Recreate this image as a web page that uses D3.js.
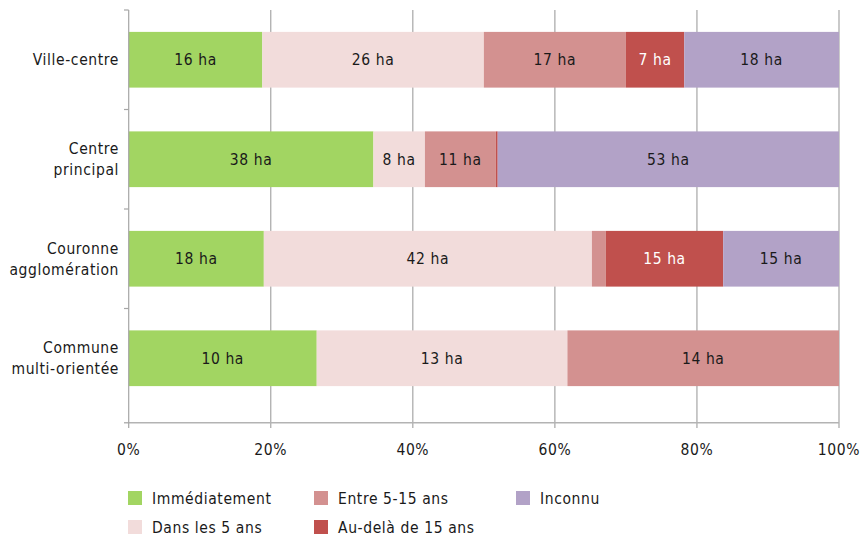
<!DOCTYPE html>
<html><head><meta charset="utf-8">
<script src="https://cdn.jsdelivr.net/npm/d3@7"></script>
<style>
body{margin:0;background:#fff;}
text{font-family:"DejaVu Sans Condensed","Roboto Condensed",Roboto,sans-serif;letter-spacing:0.6px;}
</style></head>
<body><svg id="c" width="866" height="537"></svg>
<script>
const categories = ["Ville-centre", "Centre principal", "Couronne agglomération", "Commune multi-orientée"];
const categoryLines = [["Ville-centre"], ["Centre", "principal"], ["Couronne", "agglomération"], ["Commune", "multi-orientée"]];
const seriesNames = ["Immédiatement", "Dans les 5 ans", "Entre 5-15 ans", "Au-delà de 15 ans", "Inconnu"];
const immediatement = [15.8, 38, 17.5, 9.9];
const dansLes5Ans   = [26.2, 8, 42.49, 13.2];
const entre5_15     = [16.8, 11, 1.8, 14.3];
const auDela15      = [6.9, 0.3, 15.2, 0];
const inconnu       = [18.3, 53, 15.0, 0];
const tickValues = [0, 0.2, 0.4, 0.6, 0.8, 1.0];
const colors = ["#a2d562", "#f2dcdb", "#d39190", "#c0504d", "#b2a2c7"];
const labelColors = ["#1a1a1a", "#1a1a1a", "#1a1a1a", "#ffffff", "#1a1a1a"];

const seriesVals = [immediatement, dansLes5Ans, entre5_15, auDela15, inconnu];
const rows = categories.map((c, i) => {
  const o = {cat: c};
  seriesNames.forEach((s, j) => o[s] = seriesVals[j][i]);
  return o;
});
const stack = d3.stack().keys(seriesNames).offset(d3.stackOffsetExpand)(rows);

const svg = d3.select("#c");
const FS = 15.5;
const x = d3.scaleLinear().domain([0, 1]).range([128.7, 839]);
const y = d3.scaleBand().domain(categories).range([10, 408]).paddingInner(0.44).paddingOuter(0.22);

// gridlines
svg.append("g").selectAll("line").data(tickValues.slice(1)).join("line")
  .attr("x1", d => x(d)).attr("x2", d => x(d)).attr("y1", 10).attr("y2", 428)
  .attr("stroke", "#a6a6a6").attr("stroke-width", 1.2);

// bars
const g = svg.append("g");
stack.forEach((layer, j) => {
  layer.forEach((seg, i) => {
    const w = x(seg[1]) - x(seg[0]);
    if (w <= 0) return;
    g.append("rect").attr("x", x(seg[0])).attr("y", y(categories[i]))
      .attr("width", w).attr("height", y.bandwidth()).attr("fill", colors[j]);
    if (w > 25) {
      g.append("text").attr("x", x(seg[0]) + w / 2).attr("y", y(categories[i]) + y.bandwidth() / 2)
        .attr("text-anchor", "middle").attr("dy", "0.36em").attr("font-size", FS)
        .attr("fill", labelColors[j]).text(Math.round(seriesVals[j][i]) + " ha");
    }
  });
});

// y axis
svg.append("line").attr("x1", 128.7).attr("x2", 128.7).attr("y1", 10).attr("y2", 423)
  .attr("stroke", "#a6a6a6").attr("stroke-width", 1.2);
const bounds = [10].concat(categories.slice(1).map(c => y(c) - y.step() * y.paddingInner() / 2));
svg.append("g").selectAll("line").data(bounds).join("line")
  .attr("x1", 124).attr("x2", 128.7).attr("y1", d => d).attr("y2", d => d)
  .attr("stroke", "#a6a6a6").attr("stroke-width", 1.2);
// x axis
svg.append("line").attr("x1", 124).attr("x2", 839).attr("y1", 422.7).attr("y2", 422.7)
  .attr("stroke", "#b3b3b3").attr("stroke-width", 1.6);
svg.append("line").attr("x1", x(0)).attr("x2", x(0)).attr("y1", 422).attr("y2", 428)
  .attr("stroke", "#a6a6a6").attr("stroke-width", 1.2);
svg.append("g").selectAll("text").data(tickValues).join("text")
  .attr("x", d => x(d)).attr("y", 449).attr("dy", "0.36em").attr("text-anchor", "middle")
  .attr("font-size", FS).attr("fill", "#1a1a1a").text(d => d3.format(".0%")(d));

// category labels
categoryLines.forEach((lines, i) => {
  const cy = y(categories[i]) + y.bandwidth() / 2;
  const t = svg.append("text").attr("text-anchor", "end").attr("font-size", FS).attr("fill", "#1a1a1a");
  lines.forEach((l, k) => {
    t.append("tspan").attr("x", 119).attr("y", cy + (k - (lines.length - 1) / 2) * 21).attr("dy", "0.36em").text(l);
  });
});

// legend
const legPos = [[128, 498], [128, 527], [314, 498], [314, 527], [516, 498]];
seriesNames.forEach((s, j) => {
  const [lx, ly] = legPos[j];
  svg.append("rect").attr("x", lx).attr("y", ly - 7).attr("width", 14).attr("height", 14).attr("fill", colors[j]);
  svg.append("text").attr("x", lx + 24).attr("y", ly).attr("dy", "0.36em").attr("font-size", FS)
    .attr("fill", "#1a1a1a").text(s);
});
</script></body></html>
